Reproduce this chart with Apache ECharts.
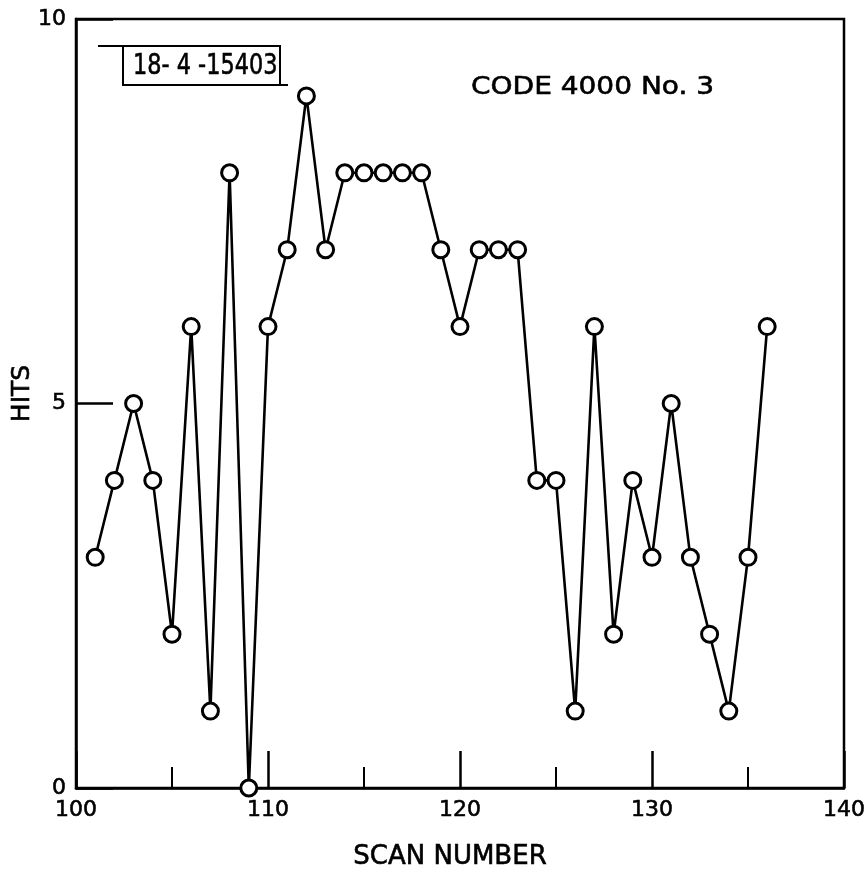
<!DOCTYPE html>
<html><head><meta charset="utf-8">
<script src="https://cdn.jsdelivr.net/npm/echarts@6/dist/echarts.min.js"></script>
<style>html,body{margin:0;padding:0;background:#fff}#c{width:867px;height:874px}</style>
</head><body><div id="c"></div>
<script>
const scans = [101,102,103,104,105,106,107,108,109,110,111,112,113,114,115,116,117,118,119,120,121,122,123,124,125,126,127,128,129,130,131,132,133,134,135,136];
const hits  = [3,4,5,4,2,6,1,8,0,6,7,9,7,8,8,8,8,8,7,6,7,7,7,4,4,1,6,2,4,3,5,3,2,1,3,6];
const xTicks = [100,110,120,130,140];
const yTicks = [0,5,10];
const titleText = 'CODE 4000 No. 3';
const tagText = '18- 4 -15403';

const chart = echarts.init(document.getElementById('c'));
const font = 'DejaVu Sans';
const thick = {textBorderColor:'#000',textBorderWidth:0.6};
chart.setOption({
  animation:false,
  backgroundColor:'#fff',
  grid:{left:76,right:23,top:19,bottom:86,show:true,borderColor:'#000',borderWidth:2.5,
        containLabel:false,outerBoundsMode:'none'},
  xAxis:{type:'value',min:100,max:140,interval:10,
    name:'SCAN NUMBER',nameLocation:'middle',nameGap:56,
    nameTextStyle:Object.assign({fontFamily:font,fontSize:26,color:'#000',padding:[0,20,0,0]},thick),
    axisLine:{lineStyle:{color:'#000',width:2.5}},
    axisTick:{inside:true,length:37,lineStyle:{color:'#000',width:2.5}},
    minorTick:{show:true,splitNumber:2,length:21,lineStyle:{color:'#000',width:2}},
    splitLine:{show:false},
    axisLabel:Object.assign({margin:11,fontFamily:font,fontSize:22,color:'#000',
      formatter:v=>xTicks.includes(v)?String(v):''},thick)
  },
  yAxis:{type:'value',min:0,max:10,interval:5,
    name:'HITS',nameLocation:'middle',nameGap:41,nameRotate:90,nameMoveOverlap:false,
    nameTextStyle:Object.assign({fontFamily:font,fontSize:25,color:'#000',padding:[0,0,0,20]},thick),
    axisLine:{lineStyle:{color:'#000',width:2.5}},
    axisTick:{inside:true,length:37,lineStyle:{color:'#000',width:2.5}},
    splitLine:{show:false},
    axisLabel:Object.assign({margin:10,fontFamily:font,fontSize:22,color:'#000',
      formatter:v=>yTicks.includes(v)?String(v):''},thick)
  },
  series:[{type:'line',data:scans.map((s,i)=>[s,hits[i]]),
    symbol:'circle',symbolSize:16,showAllSymbol:true,
    lineStyle:{color:'#000',width:2.6},
    itemStyle:{color:'#fff',borderColor:'#000',borderWidth:3},
    z:3}],
  graphic:[
    {type:'polyline',shape:{points:[[98,46],[280,46],[280,85]]},style:{stroke:'#000',lineWidth:2,fill:null}},
    {type:'polyline',shape:{points:[[123,46],[123,85],[288,85]]},style:{stroke:'#000',lineWidth:2,fill:null}},
    {type:'text',x:133,y:53,scaleX:0.8,style:{text:tagText,fontFamily:font,fontSize:28,fill:'#000',stroke:'#000',lineWidth:0.6}},
    {type:'text',x:471,y:75,scaleX:1.12,style:{text:titleText,fontFamily:font,fontSize:25,fill:'#000',stroke:'#000',lineWidth:0.6}}
  ]
});
</script></body></html>
